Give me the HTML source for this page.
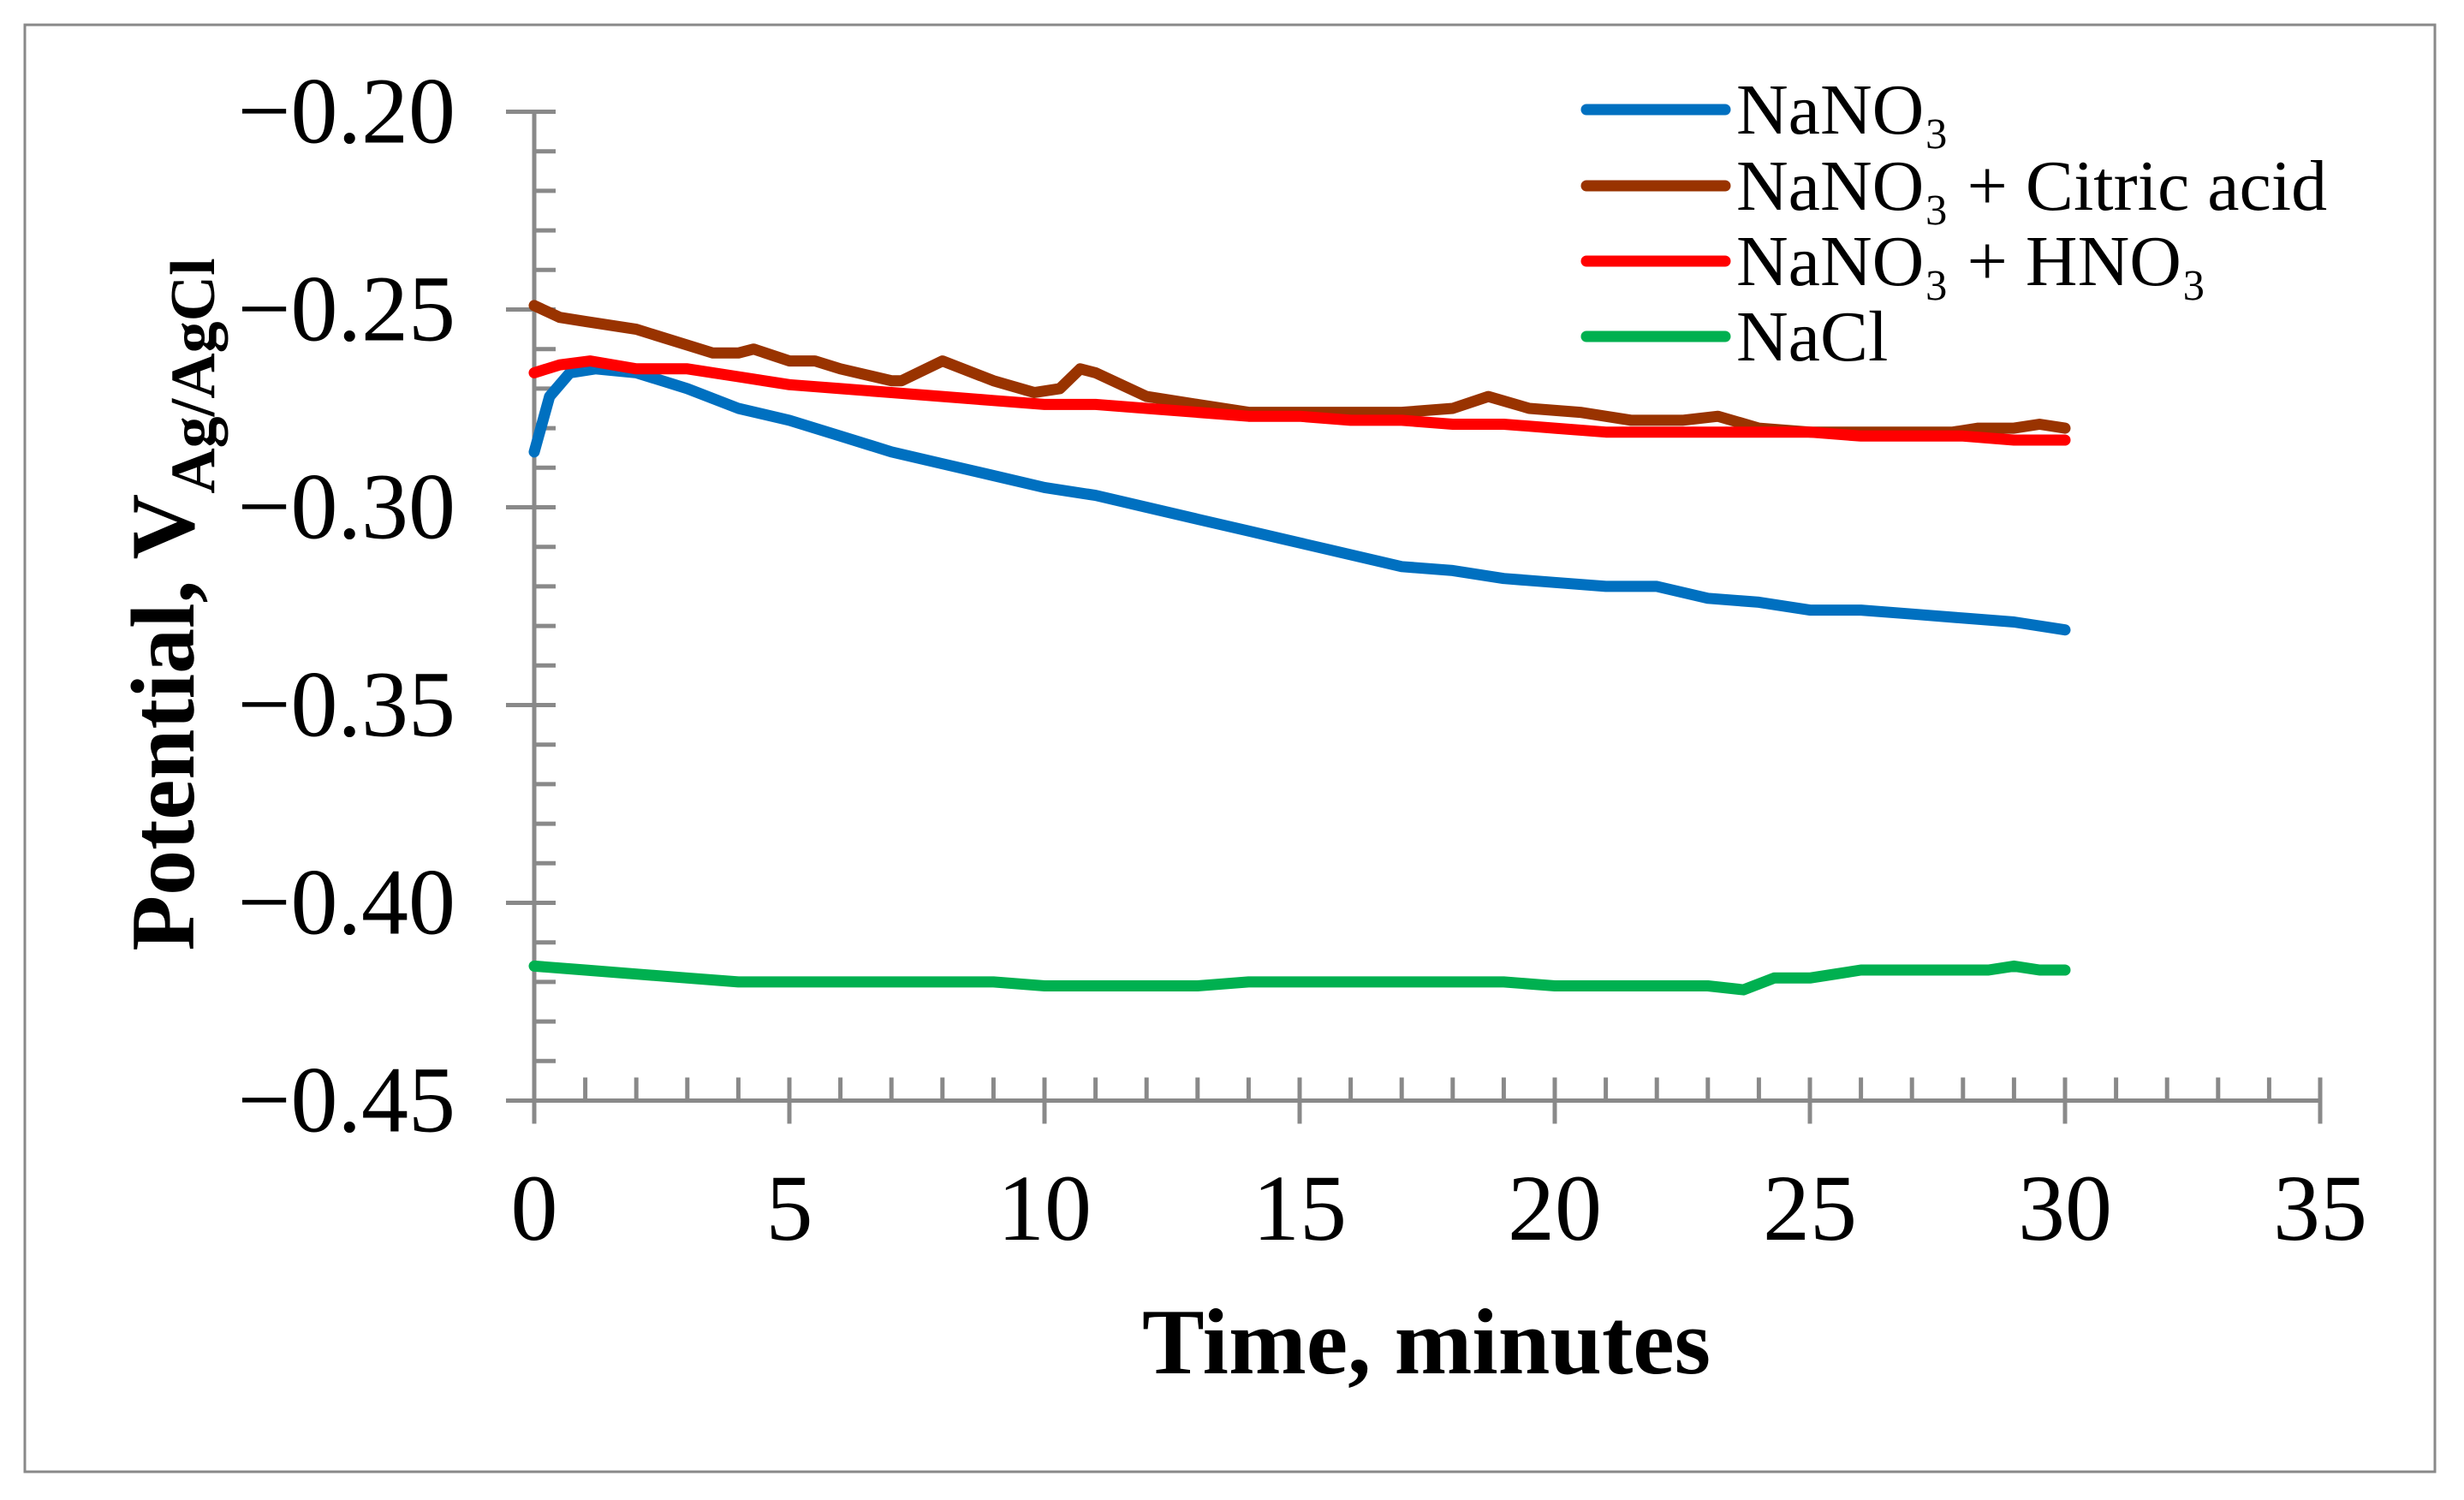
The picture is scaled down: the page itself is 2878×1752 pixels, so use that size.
<!DOCTYPE html>
<html><head><meta charset="utf-8"><style>
html,body{margin:0;padding:0;background:#fff;}
svg{display:block;}
</style></head><body>
<svg id="chart" width="2878" height="1752" viewBox="0 0 2878 1752" xmlns="http://www.w3.org/2000/svg">
<rect x="29" y="29" width="2815" height="1690" fill="#fff" stroke="#898989" stroke-width="3"/>
<g id="axes"></g>
<g id="series"></g>
<text transform="translate(226,706) rotate(-90)" text-anchor="middle" font-family="Liberation Serif, serif" font-weight="bold" font-size="106">Potential, V<tspan font-size="74" dy="24">Ag/AgCl</tspan></text>
<text x="1666" y="1604" text-anchor="middle" font-family="Liberation Serif, serif" font-weight="bold" font-size="109">Time, minutes</text>
<g id="legend"></g>
</svg>
<script>
const xTicks=[0,5,10,15,20,25,30,35];
const yTicks=[-0.20,-0.25,-0.30,-0.35,-0.40,-0.45];
const yTickLabels=["−0.20","−0.25","−0.30","−0.35","−0.40","−0.45"];
const seriesNames=["NaNO₃","NaNO₃ + Citric acid","NaNO₃ + HNO₃","NaCl"];
const seriesColors=["#0070c0","#993300","#ff0000","#00b050"];
const tBlue=[0,0.3,0.7,1.2,2,3,4,5,6,7,8,9,10,11,12,13,14,15,16,17,18,19,20,21,22,23,24,25,26,27,28,29,30];
const vBlue=[-0.286,-0.272,-0.266,-0.265,-0.266,-0.270,-0.275,-0.278,-0.282,-0.286,-0.289,-0.292,-0.295,-0.297,-0.300,-0.303,-0.306,-0.309,-0.312,-0.315,-0.316,-0.318,-0.319,-0.320,-0.320,-0.323,-0.324,-0.326,-0.326,-0.327,-0.328,-0.329,-0.331];
const tBrown=[0,0.5,1,2,3,3.5,4,4.3,5,5.5,6,7,7.2,8,9,9.8,10.3,10.7,11,12,13,14,15,16,17,18,18.7,19.5,20.5,21.5,22.5,23.2,24,25,26,27,27.8,28.3,29,29.5,30];
const vBrown=[-0.249,-0.252,-0.253,-0.255,-0.259,-0.261,-0.261,-0.260,-0.263,-0.263,-0.265,-0.268,-0.268,-0.263,-0.268,-0.271,-0.270,-0.265,-0.266,-0.272,-0.274,-0.276,-0.276,-0.276,-0.276,-0.275,-0.272,-0.275,-0.276,-0.278,-0.278,-0.277,-0.280,-0.281,-0.281,-0.281,-0.281,-0.280,-0.280,-0.279,-0.280];
const tRed=[0,0.5,1.1,2,3,4,5,6,7,8,9,10,11,12,13,14,15,16,17,18,19,20,21,22,23,24,25,26,27,28,29,30];
const vRed=[-0.266,-0.264,-0.263,-0.265,-0.265,-0.267,-0.269,-0.270,-0.271,-0.272,-0.273,-0.274,-0.274,-0.275,-0.276,-0.277,-0.277,-0.278,-0.278,-0.279,-0.279,-0.280,-0.281,-0.281,-0.281,-0.281,-0.281,-0.282,-0.282,-0.282,-0.283,-0.283];
const tGreen=[0,1,2,3,4,5,6,7,8,9,10,11,12,13,14,15,16,17,18,19,20,21,22,23,23.7,24.3,25,25.5,26,27,28,28.5,29,29.5,30];
const vGreen=[-0.416,-0.417,-0.418,-0.419,-0.420,-0.420,-0.420,-0.420,-0.420,-0.420,-0.421,-0.421,-0.421,-0.421,-0.420,-0.420,-0.420,-0.420,-0.420,-0.420,-0.421,-0.421,-0.421,-0.421,-0.422,-0.419,-0.419,-0.418,-0.417,-0.417,-0.417,-0.417,-0.416,-0.417,-0.417];

const NS="http://www.w3.org/2000/svg";
const X0=624,PXMIN=59.6,Y0=130.5,PXV=231/0.05;
function xs(t){return X0+t*PXMIN;}
function ys(v){return Y0+(-0.20-v)*PXV;}
function mk(tag,attrs,parent){const e=document.createElementNS(NS,tag);for(const k in attrs)e.setAttribute(k,attrs[k]);parent.appendChild(e);return e;}
const axes=document.getElementById('axes');
const G="#898989";
const yAxis=mk('line',{x1:X0,y1:ys(-0.20),x2:X0,y2:ys(-0.45),stroke:G,'stroke-width':5},axes);


const xAxis=mk('line',{x1:X0-33,y1:ys(-0.45),x2:xs(35),y2:ys(-0.45),stroke:G,'stroke-width':5},axes);


for(let i=0;i<=25;i++){
  const v=-0.20-i*0.01;const major=i%5===0;
  const tk=mk('line',{x1:major?X0-33:X0,y1:ys(v),x2:X0+25,y2:ys(v),stroke:G,'stroke-width':5},axes);
  
  
}
for(let m=0;m<=35;m++){
  const major=m%5===0;
  const tk=mk('line',{x1:xs(m),y1:ys(-0.45)-27,x2:xs(m),y2:major?ys(-0.45)+27:ys(-0.45),stroke:G,'stroke-width':5},axes);
  
  
}
yTicks.forEach((v,i)=>{
  const t=mk('text',{x:532,y:ys(v)+36,'text-anchor':'end','font-family':'Liberation Serif, serif','font-size':110},axes);
  t.textContent=yTickLabels[i];
  
  
});
xTicks.forEach(m=>{
  const t=mk('text',{x:xs(m),y:1448,'text-anchor':'middle','font-family':'Liberation Serif, serif','font-size':110},axes);
  t.textContent=String(m);
  
  
});
const sg=document.getElementById('series');
const allT=[tBlue,tBrown,tRed,tGreen],allV=[vBlue,vBrown,vRed,vGreen];
const sNames=['series-nano3','series-nano3-citric','series-nano3-hno3','series-nacl'];
allT.forEach((ts,k)=>{
  const d=ts.map((t,i)=>(i?'L':'M')+xs(t).toFixed(1)+' '+ys(allV[k][i]).toFixed(1)).join(' ');
  const p=mk('path',{d:d,fill:'none',stroke:seriesColors[k],'stroke-width':13,'stroke-linejoin':'round','stroke-linecap':'round'},sg);
  
  
});
const lg=document.getElementById('legend');
const ly=[128,217,305,393];
seriesNames.forEach((n,k)=>{
  const g=mk('g',{},lg);
  
  
  mk('line',{x1:1853,y1:ly[k],x2:2015,y2:ly[k],stroke:seriesColors[k],'stroke-width':13,'stroke-linecap':'round'},g);
  const t=mk('text',{x:2028,y:ly[k]+28,'font-family':'Liberation Serif, DejaVu Serif, serif','font-size':84},g);
  t.textContent=n;
});
</script>
</body></html>
